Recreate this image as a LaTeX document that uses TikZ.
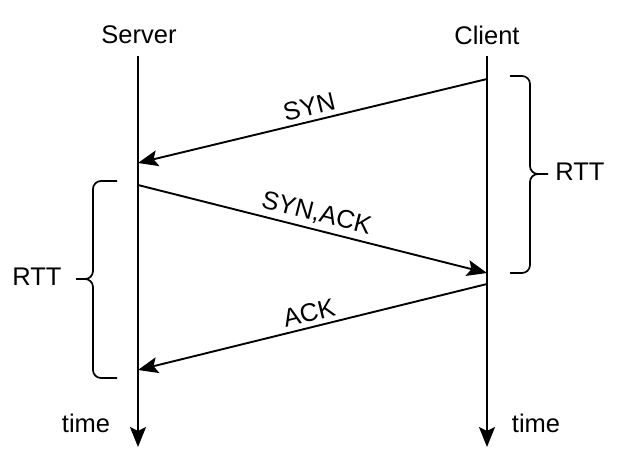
\documentclass[tikz,border=0pt]{standalone}
\usepackage{fontspec}
\setmainfont{Liberation Sans}
\usetikzlibrary{arrows.meta,positioning}

\begin{document}
\begin{tikzpicture}[x=1pt,y=-1pt,line width=1.9pt,
  every node/.style={font=\fontsize{25.5}{30}\selectfont},
  tip/.style={-{Stealth[length=20pt,width=16pt,inset=4pt]}},
  msg/.style={tip,shorten >=0pt},
  msglabel/.style={sloped,above=1pt}]
\useasboundingbox (0,0) rectangle (621,476);
% The time lines
\node (server) at (139,35) {Server};
\node (client) at (487,35) {Client};
\coordinate (stop) at (138,56);
\coordinate (send) at (138,447);
\coordinate (ctop) at (487,56);
\coordinate (cend) at (487,447);
\draw[tip] (stop) -- (send);
\draw[tip] (ctop) -- (cend);
\node (stime) at (86,423) {time};
\node (ctime) at (536,423) {time};

% The messages
\coordinate (syn0) at (487,79);
\coordinate (syn1) at (138,163);
\coordinate (synack0) at (138,185);
\coordinate (synack1) at (487,273);
\coordinate (ack0) at (487,284);
\coordinate (ack1) at (138,370);
\draw[msg] (syn0) -- node[msglabel] (syn) {SYN} (syn1);
\draw[msg] (synack0) -- node[msglabel] (synack) {SYN,ACK} (synack1);
\draw[msg] (ack0) -- node[msglabel] (ack) {ACK} (ack1);

% The braces for the round trips
\draw[line width=1.7pt,rounded corners=8pt]
  (510,76) -| (530,174) -- (548,174)
  (510,273) -| (530,174) -- (538,174);
\node (rttc) at (580,172) {RTT};
\draw[line width=1.7pt,rounded corners=8pt]
  (117,181) -| (93,279) -- (76,279)
  (117,378) -| (93,279) -- (85,279);
\node (rtts) at (37,277) {RTT};

\end{tikzpicture}
\end{document}
